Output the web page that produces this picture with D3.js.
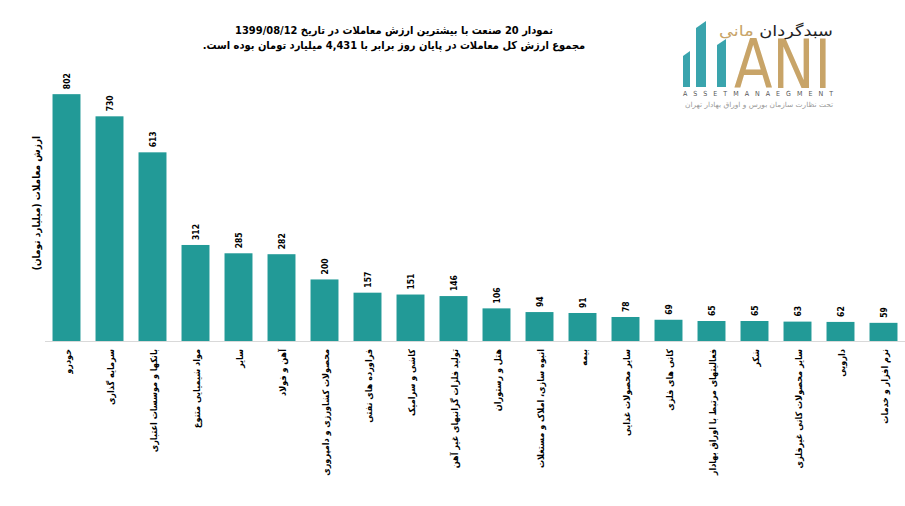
<!DOCTYPE html>
<html>
<head>
<meta charset="utf-8">
<script src="https://cdn.jsdelivr.net/npm/d3@7"></script>
<style>
  body { margin: 0; background: #fff; }
  svg { display: block; }
  text { font-family: "DejaVu Sans Condensed", "DejaVu Sans", sans-serif; }
</style>
</head>
<body>
<svg id="chart" width="905" height="506"></svg>
<script>
const categories = [
  "خودرو", "سرمایه گذاری", "بانکها و موسسات اعتباری", "مواد شیمیایی متنوع",
  "سایر", "آهن و فولاد", "محصولات کشاورزی و دامپروری", "فراورده های نفتی",
  "کاشی و سرامیک", "تولید فلزات گرانبهای غیر آهن", "هتل و رستوران",
  "انبوه سازی، املاک و مستغلات", "بیمه", "سایر محصولات غذایی", "کانی های فلزی",
  "فعالیتهای مرتبط با اوراق بهادار", "شکر", "سایر محصولات کانی غیرفلزی",
  "دارویی", "نرم افزار و خدمات"
];
const values = [802, 730, 613, 312, 285, 282, 200, 157, 151, 146, 106, 94, 91, 78, 69, 65, 65, 63, 62, 59];

const titleLines = [
  "نمودار  20 صنعت با بیشترین ارزش معاملات در تاریخ 1399/08/12",
  "مجموع ارزش  کل معاملات در پایان روز برابر با 4,431 میلیارد تومان بوده است."
];
const yTitle = "ارزش معاملات (میلیارد تومان)";

const svg = d3.select("#chart");
const barColor = "#229a97";

// مقیاس‌ها
const x = d3.scaleBand()
  .domain(categories)
  .range([45, 905])
  .paddingInner(0.35)
  .paddingOuter(0.175);

const y = d3.scaleLinear()
  .domain([0, 900])
  .range([341, 64]);

// عنوان
svg.append("g")
  .selectAll("text")
  .data(titleLines)
  .join("text")
  .attr("x", 394)
  .attr("y", (d, i) => 34 + i * 15)
  .attr("text-anchor", "middle")
  .attr("direction", "rtl")
  .attr("font-size", 11)
  .attr("font-weight", "bold")
  .attr("fill", "#000")
  .text(d => d);

// میله‌ها
svg.append("g")
  .selectAll("rect")
  .data(values)
  .join("rect")
  .attr("x", (d, i) => x(categories[i]))
  .attr("y", d => y(d))
  .attr("width", x.bandwidth())
  .attr("height", d => y(0) - y(d))
  .attr("fill", barColor);

// برچسب مقادیر
svg.append("g")
  .selectAll("text")
  .data(values)
  .join("text")
  .attr("transform", (d, i) =>
    `translate(${x(categories[i]) + x.bandwidth() / 2 + 3},${y(d) - 5}) rotate(-90)`)
  .attr("text-anchor", "start")
  .attr("font-size", 8.5)
  .attr("font-weight", "bold")
  .attr("fill", "#000")
  .text(d => d);

// محور افقی
const xAxis = svg.append("g")
  .attr("transform", `translate(0,${y(0)})`)
  .call(d3.axisBottom(x).tickSize(0).tickPadding(0));
xAxis.select(".domain").attr("stroke", "#d9d9d9").attr("stroke-width", 1.2)
  .attr("d", "M45,0.5H905");
xAxis.selectAll(".tick text")
  .attr("transform", "translate(4,8) rotate(-90)")
  .attr("y", 0)
  .attr("dy", 0)
  .attr("text-anchor", "end")
  .attr("font-size", 9)
  .attr("font-weight", "bold")
  .attr("font-family", "'DejaVu Sans Condensed', 'DejaVu Sans', sans-serif")
  .attr("fill", "#000");

// عنوان محور عمودی
svg.append("text")
  .attr("transform", "translate(40,203) rotate(-90)")
  .attr("text-anchor", "middle")
  .attr("font-size", 10)
  .attr("font-weight", "bold")
  .attr("fill", "#000")
  .text(yTitle);

// لوگو
const logo = svg.append("g");
const teal = "#3aa4ad";
const gold = "#c8a468";
logo.append("path").attr("d", "M683,56 L690,51 L690,87 L683,87 Z").attr("fill", teal);
logo.append("path").attr("d", "M696,28 L706,21 L706,87 L696,87 Z").attr("fill", teal);
logo.append("path").attr("d", "M717,45 L726,39 L726,87 L717,87 Z").attr("fill", teal);
logo.append("text")
  .attr("x", 734).attr("y", 88)
  .attr("font-family", "'Liberation Serif', serif")
  .attr("font-size", 68)
  .attr("textLength", 97)
  .attr("lengthAdjust", "spacingAndGlyphs")
  .attr("fill", gold)
  .text("ANI");
logo.append("text")
  .attr("x", 683).attr("y", 96)
  .attr("font-family", "'DejaVu Sans', sans-serif")
  .attr("font-size", 7)
  .attr("textLength", 150)
  .attr("lengthAdjust", "spacing")
  .attr("fill", "#555")
  .text("ASSETMANAEGMENT");
logo.append("text")
  .attr("x", 833).attr("y", 107)
  .attr("text-anchor", "start")
  .attr("direction", "rtl")
  .attr("font-size", 7)
  .attr("textLength", 148)
  .attr("lengthAdjust", "spacingAndGlyphs")
  .attr("fill", "#999")
  .text("تحت نظارت سازمان بورس و اوراق بهادار تهران");
const logoTitle = logo.append("text")
  .attr("x", 833).attr("y", 36)
  .attr("text-anchor", "start")
  .attr("direction", "rtl")
  .attr("font-size", 15)
  .attr("textLength", 114)
  .attr("lengthAdjust", "spacingAndGlyphs");
logoTitle.append("tspan").attr("fill", "#222").text("سبدگردان ");
logoTitle.append("tspan").attr("fill", gold).text("مانی");
</script>
</body>
</html>
